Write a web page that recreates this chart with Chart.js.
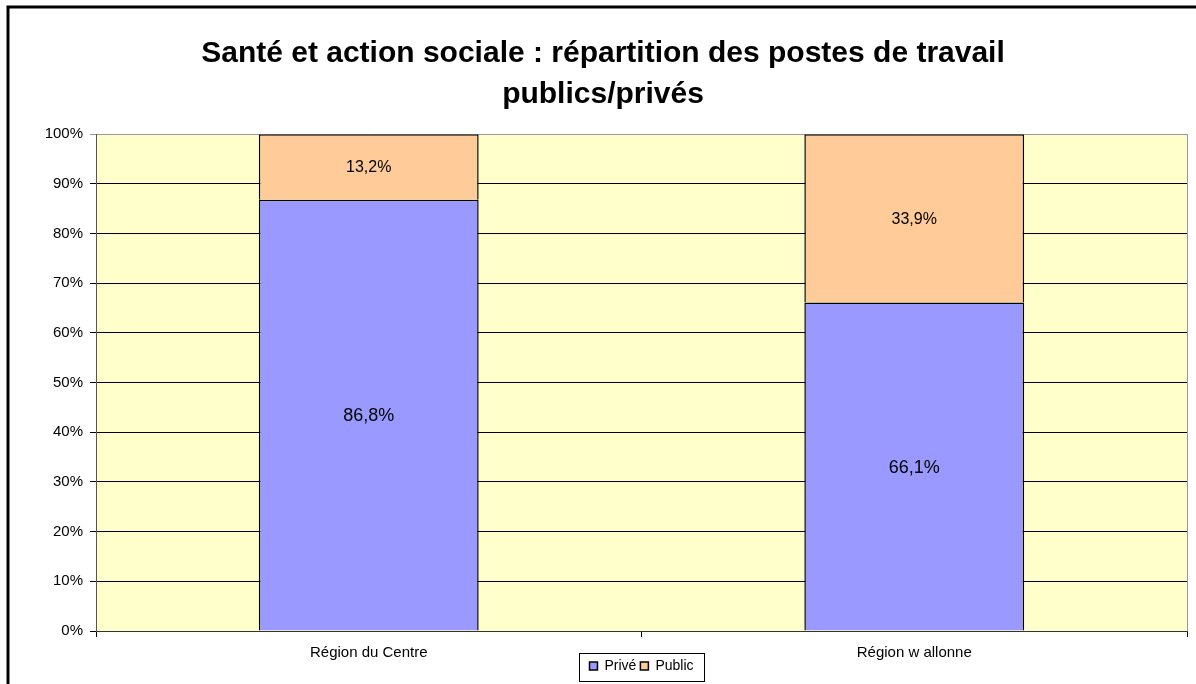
<!DOCTYPE html>
<html>
<head>
<meta charset="utf-8">
<script src="https://cdn.jsdelivr.net/npm/chart.js@4.4.0/dist/chart.umd.min.js"></script>
<style>
  html, body { margin: 0; padding: 0; background: #fff; }
  #wrap { width: 1196px; height: 684px; position: relative; }
</style>
</head>
<body>
<div id="wrap"><canvas id="chart" width="1196" height="684"></canvas></div>
<script>
const categories = ['Région du Centre', 'Région w allonne'];
const prive = [86.8, 66.1];
const publicVals = [13.2, 33.9];
const yTicks = [0, 10, 20, 30, 40, 50, 60, 70, 80, 90, 100];

const FONT = 'Liberation Sans, Arial, sans-serif';

// fond jaune de la zone de tracé + cadre extérieur
const backdrop = {
    id: 'backdrop',
    beforeDraw(chart) {
        const { ctx, chartArea: a } = chart;
        ctx.save();
        ctx.fillStyle = '#FFFFCC';
        ctx.fillRect(a.left, a.top, a.right - a.left, a.bottom - a.top);
        ctx.strokeStyle = '#000';
        ctx.lineWidth = 3;
        ctx.beginPath();
        ctx.moveTo(8, 684);
        ctx.lineTo(8, 7);
        ctx.lineTo(1196, 7);
        ctx.stroke();
        ctx.restore();
    },
    afterLayout(chart) {
        // la légende est centrée sous la zone de tracé, juste sous les libellés
        const lg = chart.legend, a = chart.chartArea;
        const h = lg.bottom - lg.top;
        lg.left = a.left;
        lg.right = a.right;
        lg.top = a.bottom + 24;
        lg.bottom = lg.top + h;
    },
    afterDraw(chart) {
        const { ctx, chartArea: a } = chart;
        ctx.save();
        ctx.strokeStyle = '#999';
        ctx.lineWidth = 1;
        ctx.beginPath();
        ctx.moveTo(Math.round(a.right) + 0.5, a.top);
        ctx.lineTo(Math.round(a.right) + 0.5, a.bottom);
        ctx.stroke();
        // cadre de la légende
        const boxes = chart.legend.legendHitBoxes;
        if (boxes && boxes.length) {
            let l = Infinity, r = -Infinity, t = Infinity, b = -Infinity;
            boxes.forEach(hb => {
                l = Math.min(l, hb.left); r = Math.max(r, hb.left + hb.width);
                t = Math.min(t, hb.top); b = Math.max(b, hb.top + hb.height);
            });
            ctx.strokeStyle = '#000';
            ctx.strokeRect(Math.round(l - 10) + 0.5, Math.round(t - 6) + 0.5,
                Math.round(r - l + 21), Math.round(b - t + 14));
        }
        ctx.restore();
    }
};

// étiquettes de valeurs dans les barres
const valueLabels = {
    id: 'valueLabels',
    afterDatasetsDraw(chart) {
        const { ctx } = chart;
        ctx.save();
        ctx.fillStyle = '#000';
        ctx.textAlign = 'center';
        ctx.textBaseline = 'middle';
        chart.data.datasets.forEach((ds, i) => {
            const meta = chart.getDatasetMeta(i);
            ctx.font = (i === 0 ? '18px ' : '16px ') + FONT;
            meta.data.forEach((bar, j) => {
                const mid = (bar.y + bar.base) / 2;
                ctx.fillText(ds.data[j].toFixed(1).replace('.', ',') + '%', bar.x, mid + 1);
            });
        });
        ctx.restore();
    }
};

new Chart(document.getElementById('chart'), {
    type: 'bar',
    data: {
        labels: categories,
        datasets: [{
            label: 'Privé',
            data: prive,
            backgroundColor: '#9999FF',
            borderColor: '#000',
            borderWidth: 1.5,
            barPercentage: 0.403,
            categoryPercentage: 1
        }, {
            label: 'Public',
            data: publicVals,
            backgroundColor: '#FFCC99',
            borderColor: '#000',
            borderWidth: 1.5,
            barPercentage: 0.403,
            categoryPercentage: 1
        }]
    },
    options: {
        responsive: false,
        animation: false,
        devicePixelRatio: 1,
        layout: { padding: { left: 10, right: 0, top: 0, bottom: -7 } },
        plugins: {
            title: {
                display: true,
                text: ['Santé et action sociale : répartition des postes de travail', 'publics/privés'],
                color: '#000',
                font: { family: FONT, size: 30, weight: 'bold', lineHeight: 1.37 },
                padding: { top: 33, bottom: 19 }
            },
            legend: {
                position: 'bottom',
                labels: {
                    color: '#000',
                    font: { family: FONT, size: 14 },
                    boxWidth: 8,
                    boxHeight: 8,
                    padding: 4
                }
            },
            tooltip: { enabled: false }
        },
        scales: {
            x: {
                stacked: true,
                grid: { display: true, drawOnChartArea: false, offset: true, tickLength: 6, color: '#000' },
                border: { color: '#333' },
                ticks: { color: '#000', font: { family: FONT, size: 15 }, padding: 7 },
                afterFit(scale) { scale.height = 32; }
            },
            y: {
                stacked: true,
                min: 0,
                max: 100,
                afterBuildTicks(scale) { scale.ticks = yTicks.map(v => ({ value: v })); },
                grid: {
                    tickLength: 6,
                    color: ctx => (ctx.tick && ctx.tick.value === 100) ? '#999' : '#000'
                },
                border: { color: '#555' },
                ticks: {
                    color: '#000',
                    font: { family: FONT, size: 15 },
                    padding: 7,
                    callback: v => v + '%'
                },
                afterFit(scale) { scale.width = 86; }
            },
            y2: {
                position: 'right',
                min: 0,
                max: 100,
                grid: { display: false },
                border: { display: false },
                ticks: { display: false },
                afterFit(scale) { scale.width = 9; }
            }
        }
    },
    plugins: [backdrop, valueLabels]
});
</script>
</body>
</html>
